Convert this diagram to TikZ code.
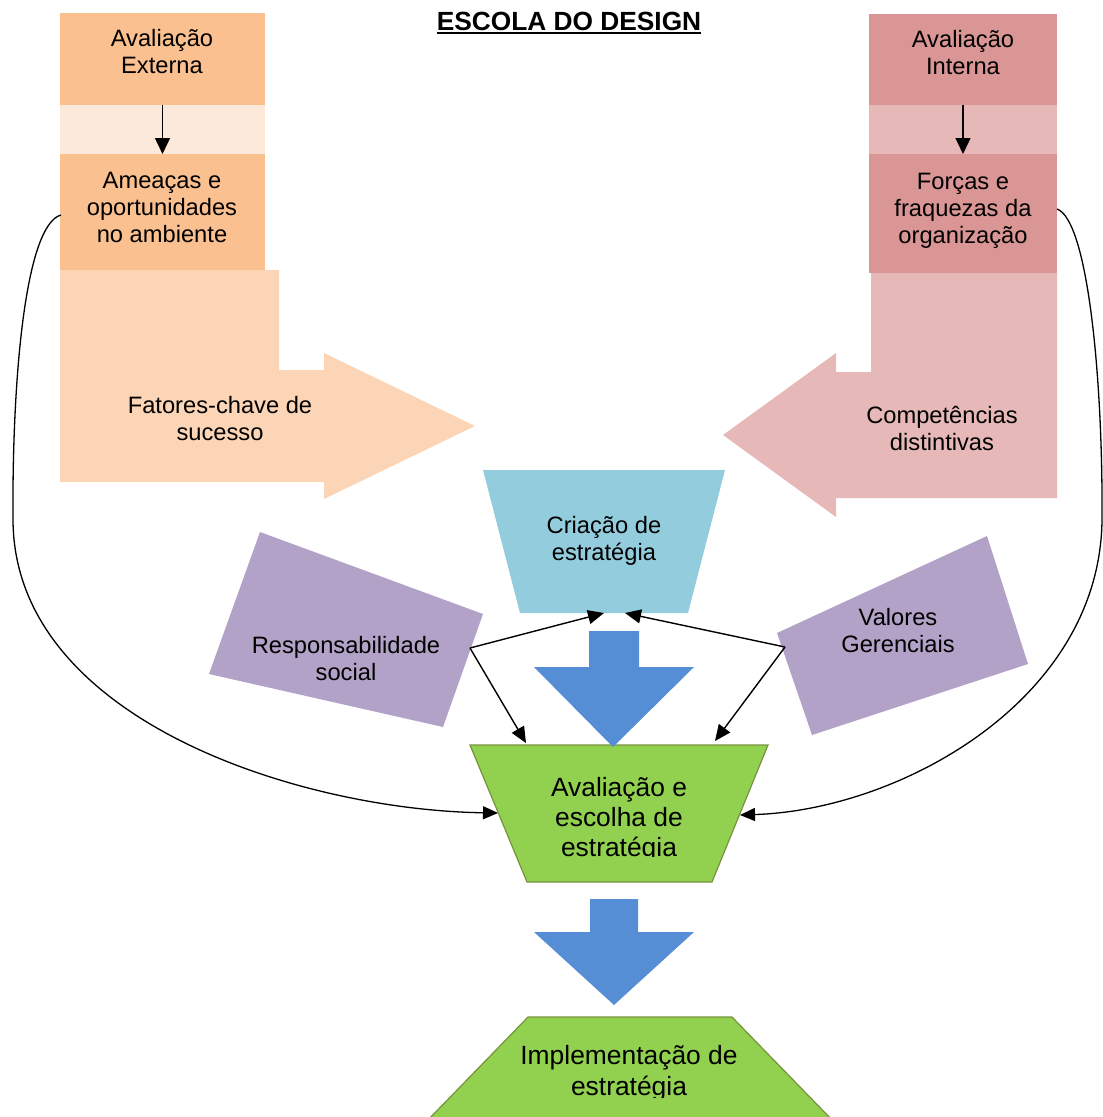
\documentclass[tikz,border=0pt]{standalone}
\usepackage{fontspec}
\setmainfont{Liberation Sans}
\usetikzlibrary{arrows.meta}
\definecolor{orD}{HTML}{FAC090}
\definecolor{orL}{HTML}{FDE9D9}
\definecolor{orA}{HTML}{FBD5B5}
\definecolor{rdD}{HTML}{D99694}
\definecolor{rdL}{HTML}{E6B9B8}
\definecolor{cyanT}{HTML}{93CDDD}
\definecolor{purp}{HTML}{B3A2C7}
\definecolor{blueA}{HTML}{558ED5}
\definecolor{grn}{HTML}{92D050}
\definecolor{grnB}{HTML}{77933C}
\begin{document}
\begin{tikzpicture}[x=1pt,y=-1pt,
  txt/.style={align=center,inner sep=0pt,font=\fontsize{23.7}{27}\selectfont},
  gtxt/.style={align=center,inner sep=0pt,font=\fontsize{26.4}{30}\selectfont},
  gtxtb/.style={align=center,inner sep=0pt,font=\fontsize{26.4}{31.5}\selectfont},
  boxn/.style={draw=none,inner sep=0pt,outer sep=0pt},
  conn/.style={line width=1.4pt,-{Triangle[length=16pt,width=14pt]}},
  colarrow/.style={line width=1.4pt,-{Triangle[length=16pt,width=15pt]}},
  curv/.style={line width=1.3pt,-{Triangle[length=15pt,width=13pt]}},
  bigarrow/.style={fill=blueA},
]
\useasboundingbox (0,0) rectangle (1103,1117);
\clip (0,0) rectangle (1103,1117);

% title
\node[inner sep=0pt,font=\fontsize{26.3}{30}\selectfont\bfseries] (title) at (569,21) {ESCOLA DO DESIGN};
\draw[line width=2pt] ([yshift=-3pt]title.base west) -- ([yshift=-3pt]title.base east);

% left column
\node[boxn,fill=orD,minimum width=205pt,minimum height=92pt] (extbox) at (162.5,59) {};
\fill[orL] (60,105) rectangle (265,154);
\node[boxn,fill=orD,minimum width=205pt,minimum height=116pt] (ameabox) at (162.5,212) {};
\fill[orA] (60,270) -- (279,270) -- (279,370) -- (324,370) -- (324,353) -- (475,426)
  -- (324,499) -- (324,482) -- (60,482) -- cycle;

% right column
\node[boxn,fill=rdD,minimum width=188pt,minimum height=91pt] (intbox) at (963,59.5) {};
\fill[rdL] (869,105) rectangle (1057,154);
\node[boxn,fill=rdD,minimum width=188pt,minimum height=119pt] (forcbox) at (963,213.5) {};
\fill[rdL] (871,273) -- (1057,273) -- (1057,498) -- (836,498) -- (836,517) -- (723,435)
  -- (836,353) -- (836,372) -- (871,372) -- cycle;

% centre trapezoid
\fill[cyanT] (483,470) -- (725,470) -- (688,613) -- (520,613) -- cycle;

% purple shapes
\fill[purp] (260,532) -- (483,614) -- (443,727) -- (209,674) -- cycle;
\fill[purp] (777,633) -- (987,536) -- (1028,664) -- (812,735) -- cycle;

% green trapezoids
\filldraw[fill=grn,draw=grnB,line width=1.2pt] (470,745) -- (768,745) -- (712,882) -- (527,882) -- cycle;
\filldraw[fill=grn,draw=grnB,line width=1.2pt] (528,1017) -- (732,1017) -- (835,1123) -- (425,1123) -- cycle;

% blue arrows
\fill[bigarrow] (589,631) -- (639,631) -- (639,667) -- (694,667) -- (613,747) -- (534,667) -- (589,667) -- cycle;
\fill[bigarrow] (590,899) -- (638,899) -- (638,932) -- (694,932) -- (614,1005) -- (534,932) -- (590,932) -- cycle;

% texts
\node[txt] (ext) at (162,52) {Avaliação\\Externa};
\node[txt] (amea) at (162,207.5) {Ameaças e\\oportunidades\\no ambiente};
\node[txt] (int) at (963,52.5) {Avaliação\\Interna};
\node[txt] (forc) at (963,210.5) {Forças e\\fraquezas da\\organização};
\node[txt] (fat) at (220,419) {Fatores-chave de\\sucesso};
\node[txt] (comp) at (942,428.5) {Competências\\distintivas};
\node[txt] (cri) at (604,541) {Criação de\\estratégia};
\node[txt] (resp) at (346,659) {Responsabilidade\\social};
\node[txt] (val) at (898,631) {Valores\\Gerenciais};
\begin{scope}
  \clip (440,740) rectangle (800,856);
  \node[gtxt] (aval) at (619,820) {Avaliação e\\escolha de\\estratégia};
\end{scope}
\begin{scope}
  \clip (420,1012) rectangle (840,1097);
  \node[gtxtb] (impl) at (629,1073) {Implementação de\\estratégia};
\end{scope}

% connector end points
\coordinate (respV) at (470,648);
\coordinate (valV) at (785,647);
\coordinate (criL) at (604,613);
\coordinate (criR) at (625,613);
\coordinate (avalL) at (526,743);
\coordinate (avalR) at (715,741);
\coordinate (ameaW) at (61,215);
\coordinate (forcE) at (1057,209);
\coordinate (avalW) at (498,813);
\coordinate (avalE) at (740,815);

% connectors
\draw[colarrow] (extbox.south) -- (ameabox.north);
\draw[colarrow] (intbox.south) -- (forcbox.north);
\draw[conn] (respV) -- (criL);
\draw[conn] (respV) -- (avalL);
\draw[conn] (valV) -- (criR);
\draw[conn] (valV) -- (avalR);
\draw[curv] (ameaW) .. controls (25,225) and (12,380) .. (13,520)
  .. controls (14,720) and (300,810) .. (avalW);
\draw[curv] (forcE) .. controls (1088,220) and (1103,380) .. (1102,520)
  .. controls (1100,700) and (900,810) .. (avalE);
\end{tikzpicture}
\end{document}
